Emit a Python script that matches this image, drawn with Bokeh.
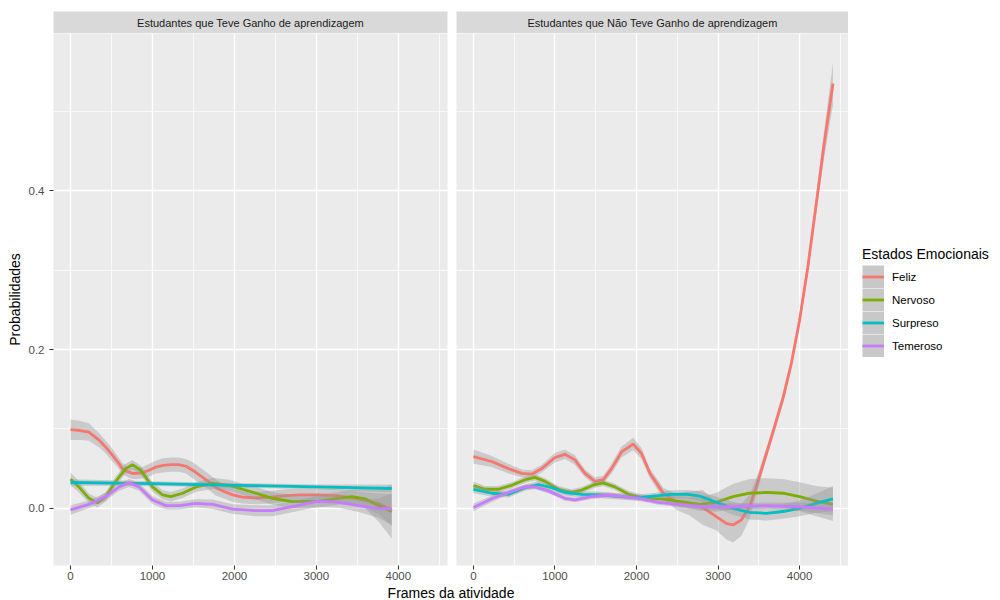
import numpy as np
from bokeh.plotting import figure
from bokeh.layouts import row, column
from bokeh.models import Range1d, FixedTicker, Label, Legend, LegendItem, NumeralTickFormatter
from bokeh.embed import file_html
from bokeh.resources import INLINE

FONT = "Liberation Sans"

series_names = ["Feliz", "Nervoso", "Surpreso", "Temeroso"]
series_colors = ["#F8766D", "#7CAE00", "#00BFC4", "#C77CFF"]
facet_titles = ["Estudantes que Teve Ganho de aprendizagem",
                "Estudantes que Não Teve Ganho de aprendizagem"]
legend_title = "Estados Emocionais"
x_title = "Frames da atividade"
y_title = "Probabilidades"
x_major_ticks = [0, 1000, 2000, 3000, 4000]
x_minor_ticks = [500, 1500, 2500, 3500, 4500]
y_major_ticks = [0.0, 0.2, 0.4]
y_minor_ticks = [0.1, 0.3, 0.5]

# ---- Panel 1: "Teve Ganho" (smoothed fit, standard-error half width) ----
gain_feliz_x = [0, 120, 224, 347, 430, 510, 580, 633, 700, 755, 820, 878, 960, 1041, 1130, 1224, 1320, 1408,
                1490, 1571, 1680, 1776, 1880, 1980, 2100, 2265, 2450, 2623, 2800, 3028, 3230, 3433, 3600, 3757, 3920]
gain_feliz_y = [0.099, 0.098, 0.096, 0.086, 0.077, 0.067, 0.058, 0.050, 0.046, 0.044, 0.044, 0.045, 0.048, 0.052,
                0.054, 0.055, 0.055, 0.053, 0.048, 0.042, 0.034, 0.026, 0.021, 0.017, 0.014, 0.013, 0.014, 0.016,
                0.017, 0.017, 0.016, 0.0134, 0.010, 0.006, -0.002]
gain_feliz_se = [0.013, 0.012, 0.011, 0.009, 0.008, 0.008, 0.007, 0.007, 0.007, 0.007, 0.007, 0.007, 0.008, 0.008,
                 0.009, 0.009, 0.009, 0.009, 0.010, 0.010, 0.010, 0.010, 0.009, 0.009, 0.008, 0.008, 0.008, 0.008,
                 0.008, 0.008, 0.008, 0.009, 0.010, 0.013, 0.020]

gain_nervoso_x = [0, 102, 224, 327, 429, 551, 673, 755, 857, 1000, 1122, 1224, 1367, 1531, 1735, 1939, 2100, 2265,
                  2462, 2705, 3028, 3271, 3433, 3595, 3757, 3920]
gain_nervoso_y = [0.037, 0.027, 0.0126, 0.007, 0.0147, 0.034, 0.050, 0.055, 0.048, 0.027, 0.017, 0.0147, 0.019,
                  0.027, 0.0315, 0.029, 0.024, 0.019, 0.0126, 0.0084, 0.009, 0.0126, 0.0147, 0.012, 0.0034, -0.004]
gain_nervoso_se = [0.008, 0.007, 0.006, 0.006, 0.006, 0.006, 0.006, 0.006, 0.006, 0.006, 0.006, 0.006, 0.006,
                   0.006, 0.007, 0.007, 0.007, 0.008, 0.008, 0.008, 0.008, 0.008, 0.009, 0.012, 0.020, 0.034]

gain_surpreso_x = [0, 1000, 2000, 3000, 3920]
gain_surpreso_y = [0.0325, 0.031, 0.029, 0.027, 0.025]
gain_surpreso_se = [0.004, 0.003, 0.003, 0.003, 0.005]

gain_temeroso_x = [0, 224, 429, 592, 714, 837, 1000, 1163, 1327, 1531, 1735, 1980, 2265, 2462, 2705, 3028, 3271,
                   3514, 3757, 3920]
gain_temeroso_y = [-0.002, 0.005, 0.0147, 0.027, 0.032, 0.027, 0.0105, 0.0034, 0.0034, 0.0063, 0.005, -0.001,
                   -0.003, -0.003, 0.002, 0.009, 0.0076, 0.0034, 0.0, -0.001]
gain_temeroso_se = [0.006, 0.005, 0.005, 0.005, 0.005, 0.005, 0.005, 0.005, 0.005, 0.005, 0.006, 0.006, 0.007,
                    0.007, 0.007, 0.007, 0.007, 0.008, 0.012, 0.020]

# ---- Panel 2: "Não Teve Ganho" ----
nogain_feliz_x = [0, 224, 429, 592, 714, 837, 1000, 1122, 1245, 1367, 1490, 1592, 1694, 1816, 1959, 2061, 2165,
                  2332, 2492, 2651, 2815, 2978, 3101, 3183, 3285, 3387, 3469, 3551, 3632, 3700, 3800, 3900, 4000,
                  4100, 4200, 4300, 4410]
nogain_feliz_y = [0.065, 0.059, 0.050, 0.044, 0.043, 0.050, 0.064, 0.068, 0.061, 0.044, 0.034, 0.036, 0.050,
                  0.071, 0.081, 0.069, 0.044, 0.0185, 0.008, 0.006, 0.001, -0.0105, -0.019, -0.021, -0.0147, 0.002,
                  0.027, 0.055, 0.082, 0.105, 0.140, 0.183, 0.237, 0.303, 0.380, 0.458, 0.535]
nogain_feliz_se = [0.009, 0.007, 0.006, 0.005, 0.005, 0.005, 0.006, 0.006, 0.006, 0.005, 0.005, 0.005, 0.006,
                   0.007, 0.008, 0.007, 0.006, 0.007, 0.010, 0.015, 0.022, 0.017, 0.020, 0.022, 0.020, 0.015,
                   0.011, 0.008, 0.007, 0.007, 0.007, 0.007, 0.008, 0.009, 0.012, 0.017, 0.027]

nogain_nervoso_x = [0, 143, 306, 469, 633, 755, 878, 1041, 1204, 1327, 1490, 1592, 1735, 1898, 2102, 2300, 2500,
                    2774, 2978, 3183, 3387, 3592, 3796, 4000, 4205, 4409]
nogain_nervoso_y = [0.0286, 0.024, 0.024, 0.029, 0.036, 0.039, 0.034, 0.024, 0.020, 0.023, 0.030, 0.032, 0.027,
                    0.018, 0.0126, 0.012, 0.009, 0.005, 0.0076, 0.0147, 0.019, 0.020, 0.019, 0.0147, 0.009, 0.005]
nogain_nervoso_se = [0.005, 0.004, 0.004, 0.004, 0.004, 0.004, 0.004, 0.004, 0.004, 0.004, 0.004, 0.004, 0.004,
                     0.004, 0.004, 0.005, 0.006, 0.008, 0.012, 0.016, 0.018, 0.018, 0.018, 0.018, 0.019, 0.021]

nogain_surpreso_x = [0, 224, 429, 633, 796, 959, 1122, 1327, 1571, 1816, 2020, 2265, 2406, 2610, 2774, 2978, 3183,
                     3387, 3592, 3796, 4000, 4205, 4409]
nogain_surpreso_y = [0.024, 0.019, 0.0176, 0.026, 0.030, 0.026, 0.020, 0.0176, 0.0168, 0.0147, 0.0134, 0.016,
                     0.0176, 0.018, 0.0155, 0.0076, 0.0, -0.005, -0.0063, -0.004, 0.0, 0.0063, 0.012]
nogain_surpreso_se = [0.005, 0.004, 0.004, 0.004, 0.004, 0.004, 0.004, 0.004, 0.004, 0.004, 0.004, 0.004, 0.005,
                      0.005, 0.006, 0.007, 0.008, 0.009, 0.009, 0.009, 0.010, 0.012, 0.016]

nogain_temeroso_x = [0, 224, 429, 633, 755, 918, 1122, 1245, 1449, 1653, 1857, 2061, 2265, 2500, 2815, 3183, 3592,
                     4000, 4409]
nogain_temeroso_y = [0.001, 0.012, 0.020, 0.027, 0.027, 0.022, 0.0126, 0.0105, 0.0147, 0.0168, 0.0147, 0.012,
                     0.0076, 0.005, 0.002, 0.002, 0.0034, 0.002, -0.001]
nogain_temeroso_se = [0.005, 0.004, 0.003, 0.003, 0.003, 0.003, 0.003, 0.003, 0.003, 0.003, 0.003, 0.003, 0.003,
                      0.003, 0.004, 0.004, 0.004, 0.005, 0.008]

panel_data = [
    [(gain_feliz_x, gain_feliz_y, gain_feliz_se),
     (gain_nervoso_x, gain_nervoso_y, gain_nervoso_se),
     (gain_surpreso_x, gain_surpreso_y, gain_surpreso_se),
     (gain_temeroso_x, gain_temeroso_y, gain_temeroso_se)],
    [(nogain_feliz_x, nogain_feliz_y, nogain_feliz_se),
     (nogain_nervoso_x, nogain_nervoso_y, nogain_nervoso_se),
     (nogain_surpreso_x, nogain_surpreso_y, nogain_surpreso_se),
     (nogain_temeroso_x, nogain_temeroso_y, nogain_temeroso_se)],
]

X_RANGE = (-208, 4600)
Y_RANGE = (-0.072, 0.598)
STRIP_TOP = 11
STRIP_H = 22
PANEL_H = 532
AXIS_B = 20
LEFT_B = 53
GAP_L = 4
GAP_R = 5
FRAME_W1 = 394
FRAME_W2 = 392
LEGEND_W = 152
XT_H = 14


def strip_fig(title, left_b, right_b, frame_w):
    s = figure(width=left_b + frame_w + right_b, height=STRIP_TOP + STRIP_H, x_range=Range1d(0, 1),
               y_range=Range1d(0, 1), x_axis_location=None, y_axis_location=None,
               min_border_left=left_b, min_border_right=right_b, min_border_top=STRIP_TOP, min_border_bottom=0,
               output_backend="svg", toolbar_location=None, background_fill_color="#D9D9D9",
               border_fill_color="white", outline_line_color=None)
    s.grid.visible = False
    s.add_layout(Label(x=0.5, y=0.5, text=title, text_align="center", text_baseline="middle",
                       text_font=FONT, text_font_size="11px", text_color="#1A1A1A"))
    return s


def panel_fig(data, left_b, right_b, frame_w, show_y):
    p = figure(width=left_b + frame_w + right_b, height=PANEL_H + AXIS_B,
               x_range=Range1d(*X_RANGE), y_range=Range1d(*Y_RANGE),
               y_axis_location="left" if show_y else None,
               min_border_left=left_b, min_border_right=right_b, min_border_top=0, min_border_bottom=AXIS_B,
               output_backend="svg", toolbar_location=None, background_fill_color="#EBEBEB",
               border_fill_color="white", outline_line_color=None)
    xt = FixedTicker(ticks=x_major_ticks, minor_ticks=x_minor_ticks)
    yt = FixedTicker(ticks=y_major_ticks, minor_ticks=y_minor_ticks)
    p.xgrid.ticker = xt
    p.ygrid.ticker = yt
    for g in (p.xgrid, p.ygrid):
        g.grid_line_color = "white"
        g.grid_line_width = 1.4
        g.minor_grid_line_color = "white"
        g.minor_grid_line_width = 0.7
    axes = [p.xaxis[0]] + ([p.yaxis[0]] if show_y else [])
    p.xaxis.ticker = xt
    if show_y:
        p.yaxis.ticker = yt
        p.yaxis.formatter = NumeralTickFormatter(format="0.0")
        p.yaxis.axis_label = y_title
        p.yaxis.axis_label_standoff = 3
        p.yaxis.major_label_standoff = 5
    for a in axes:
        a.axis_line_color = None
        a.major_tick_line_color = "#333333"
        a.major_tick_out = 4
        a.major_tick_in = 0
        a.minor_tick_line_color = None
        a.major_label_text_font = FONT
        a.major_label_text_font_size = "11.5px"
        a.major_label_text_color = "#4D4D4D"
        a.axis_label_text_font = FONT
        a.axis_label_text_font_size = "14px"
        a.axis_label_text_font_style = "normal"
        a.axis_label_text_color = "#000000"
    p.xaxis.major_label_standoff = 2
    for (xs, ys, se), color in zip(data, series_colors):
        xs = np.array(xs, dtype=float)
        ys = np.array(ys, dtype=float)
        se = np.array(se, dtype=float)
        p.varea(x=xs, y1=ys - se, y2=ys + se, fill_color="#999999", fill_alpha=0.4)
        p.line(xs, ys, line_color=color, line_width=2.8)
    return p


strip1 = strip_fig(facet_titles[0], LEFT_B, GAP_L, FRAME_W1)
strip2 = strip_fig(facet_titles[1], GAP_R, 0, FRAME_W2)
panel1 = panel_fig(panel_data[0], LEFT_B, GAP_L, FRAME_W1, True)
panel2 = panel_fig(panel_data[1], GAP_R, 0, FRAME_W2, False)

# legend column (key glyphs come from hidden copies of the series lines)
col_h = STRIP_TOP + STRIP_H + PANEL_H + AXIS_B
lg = figure(width=LEGEND_W, height=col_h, x_range=Range1d(*X_RANGE), y_range=Range1d(*Y_RANGE),
            x_axis_location=None, y_axis_location=None,
            min_border_left=0, min_border_right=0, min_border_top=0, min_border_bottom=0,
            output_backend="svg", toolbar_location=None, background_fill_color="white",
            border_fill_color="white", outline_line_color=None)
lg.grid.visible = False
items = []
for name, color, (xs, ys, _se) in zip(series_names, series_colors, panel_data[1]):
    bg = lg.line(xs, ys, line_color="#C8C8C8", line_width=23, visible=False)
    ln = lg.line(xs, ys, line_color=color, line_width=2.8, visible=False)
    items.append(LegendItem(label=name, renderers=[bg, ln]))
legend = Legend(items=items, title=legend_title, location=(14, 228),
                title_text_font=FONT, title_text_font_size="14px", title_text_color="#000000",
                title_text_font_style="normal", title_standoff=3,
                label_text_font=FONT, label_text_font_size="11.5px", label_text_color="#000000",
                glyph_width=22, glyph_height=23, label_height=23, label_standoff=8, spacing=0,
                padding=0, margin=0, border_line_color=None, background_fill_alpha=0,
                inactive_fill_alpha=0)
lg.add_layout(legend)

xt_fig = figure(width=LEFT_B + FRAME_W1 + GAP_L + GAP_R + FRAME_W2, height=XT_H, x_range=Range1d(0, 1),
                y_range=Range1d(0, 1), x_axis_location=None, y_axis_location=None,
                min_border_left=LEFT_B, min_border_right=0, min_border_top=0, min_border_bottom=0,
                output_backend="svg", toolbar_location=None, background_fill_color="white",
                border_fill_color="white", outline_line_color=None)
xt_fig.grid.visible = False
xt_fig.add_layout(Label(x=0.5, y=0.5, text=x_title, text_align="center", text_baseline="middle",
                        text_font=FONT, text_font_size="14px", text_color="#000000"))

layout = column(row(column(strip1, panel1, spacing=0), column(strip2, panel2, spacing=0), lg, spacing=0),
                xt_fig, spacing=0)

with open("out.html", "w") as f:
    f.write(file_html(layout, INLINE))
